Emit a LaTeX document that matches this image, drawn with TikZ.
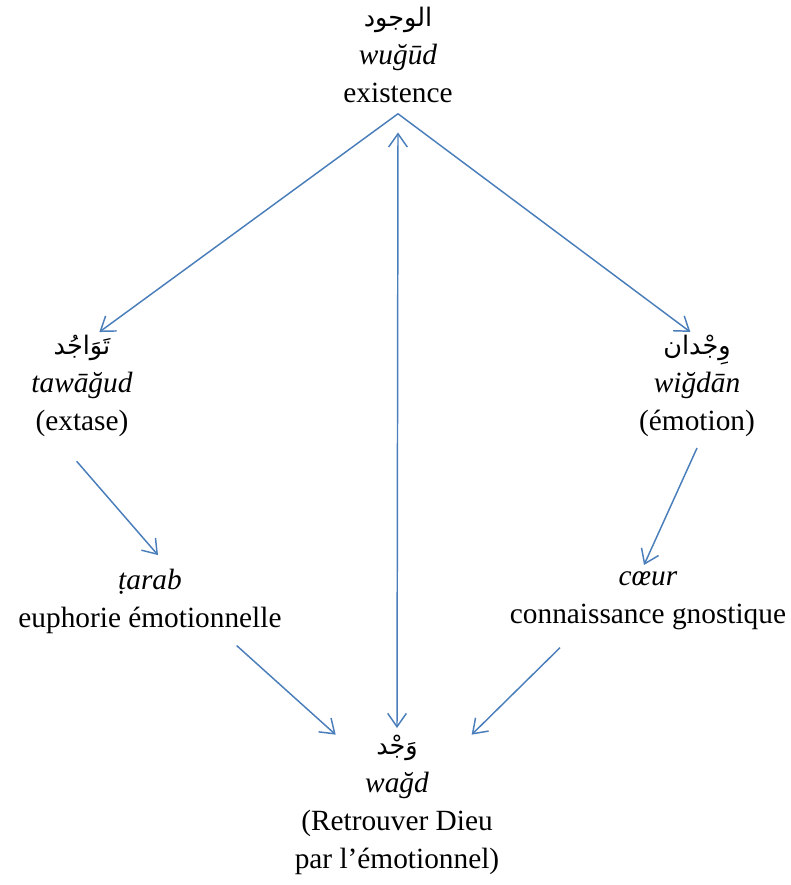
\documentclass[tikz,border=0pt]{standalone}
\usepackage{fontspec}
\setmainfont{Liberation Serif}
\newfontfamily\arabicfont[Script=Arabic,Scale=0.87]{DejaVu Sans}
\TeXXeTstate=1
\usepackage{xcolor}
\usepackage{tikz}
\usetikzlibrary{arrows.meta}
\definecolor{linkblue}{RGB}{74,126,187}
\newcommand{\ar}[1]{{\arabicfont\beginR #1\endR}}
\tikzset{
  term/.style={
    align=center,
    inner sep=2pt,
    font=\fontsize{22}{28.5}\selectfont
  },
  arrow/.style={
    draw=linkblue,
    line width=1.1pt,
    -{Straight Barb[length=10pt,width=14pt]}
  },
  twoarrow/.style={
    arrow,
    {Straight Barb[length=10pt,width=14pt]}-{Straight Barb[length=10pt,width=14pt]}
  }
}

\begin{document}
\begin{tikzpicture}[x=0.75pt, y=-0.75pt]
\useasboundingbox (0,0) rectangle (791,885);

% Nodes
\node (wujud) [term] at (398,55) {\ar{الوجود}\\ \textit{wuğūd}\\ existence};
\node (tawajud) [term] at (82,386) {\ar{تَوَاجُد}\\ \textit{tawāğud}\\ (extase)};
\node (wijdan) [term] at (697,386) {\ar{وِجْدان}\\ \textit{wiğdān}\\ (émotion)};
\node (tarab) [term] at (150,601) {\textit{ṭarab}\\ euphorie émotionnelle};
\node (coeur) [term] at (648,601) {\textit{cœur}\\ connaissance gnostique};
\node (wajd) [term] at (397,805) {\ar{وَجْد}\\ \textit{wağd}\\ (Retrouver Dieu\\ par l’émotionnel)};

% Arrows
\draw [arrow] ([yshift=-6pt]wujud.south) -- ([xshift=13pt]tawajud.north);
\draw [arrow] ([yshift=-6pt]wujud.south) -- ([xshift=-5pt]wijdan.north);
\draw [twoarrow] ([yshift=-20pt]wujud.south) -- ([yshift=3pt]wajd.north);

\draw [arrow] ([xshift=-4pt,yshift=-16pt]tawajud.south) -- ([xshift=6pt,yshift=8pt]tarab.north);
\draw [arrow] ([yshift=-6pt]wijdan.south) -- ([xshift=-3pt,yshift=3pt]coeur.north);

\draw [arrow] ([xshift=65pt,yshift=-7pt]tarab.south) -- ([xshift=-46pt,yshift=-2pt]wajd.north);
\draw [arrow] ([xshift=-66pt,yshift=-11pt]coeur.south) -- ([xshift=56pt,yshift=-2pt]wajd.north);

\end{tikzpicture}
\end{document}
